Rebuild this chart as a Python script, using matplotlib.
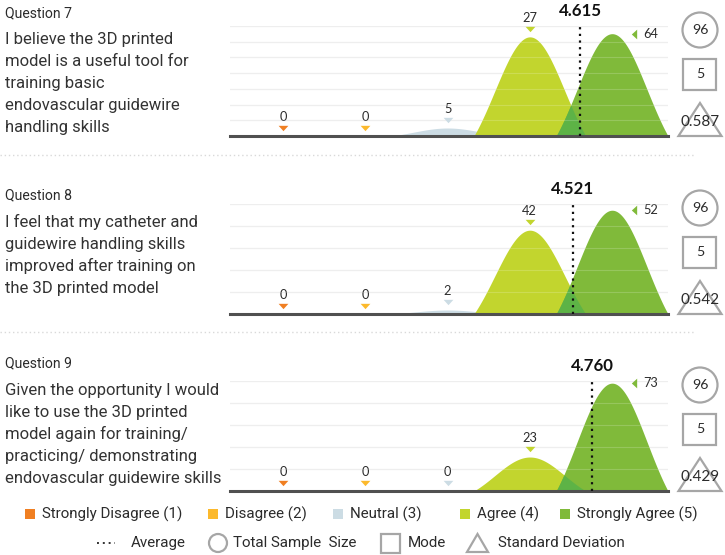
import numpy as np
import matplotlib
matplotlib.use("Agg")
import matplotlib.pyplot as plt
from matplotlib.patches import Circle, Rectangle, Polygon
from matplotlib.transforms import offset_copy

# ---------------- data ----------------
categories = ["Strongly Disagree (1)", "Disagree (2)", "Neutral (3)", "Agree (4)", "Strongly Agree (5)"]
cat_colors = ["#F07F22", "#FCB92C", "#CCDCE4", "#C2D52E", "#80BA3A"]
overlap_color = "#5DB346"

questions = ["Question 7", "Question 8", "Question 9"]
statements = [
    ["I believe the 3D printed", "model is a useful tool for", "training basic",
     "endovascular guidewire", "handling skills"],
    ["I feel that my catheter and", "guidewire handling skills",
     "improved after training on", "the 3D printed model"],
    ["Given the opportunity I would", "like to use the 3D printed",
     "model again for training/", "practicing/ demonstrating",
     "endovascular guidewire skills"],
]
counts_q7 = [0, 0, 5, 27, 64]
counts_q8 = [0, 0, 2, 42, 52]
counts_q9 = [0, 0, 0, 23, 73]
# curve peak heights as drawn in the picture
drawn_q7 = [0, 0, 5, 62, 64]
drawn_q8 = [0, 0, 2, 42, 52]
drawn_q9 = [0, 0, 0, 23, 73]
averages = [4.615, 4.521, 4.760]
sample_sizes = [96, 96, 96]
modes = [5, 5, 5]
std_devs = [0.587, 0.542, 0.429]

counts = [counts_q7, counts_q8, counts_q9]
drawn = [drawn_q7, drawn_q8, drawn_q9]

# ---------------- layout ----------------
W, H = 725, 555
fig = plt.figure(figsize=(W / 100, H / 100), dpi=100)
renderer = fig.canvas.get_renderer()
FONT = "Roboto"
NUMFONT = "Lato"
TXT = "#2b2b2b"

ov = fig.add_axes([0, 0, 1, 1])
ov.set_xlim(0, W)
ov.set_ylim(H, 0)
ov.axis("off")
ov.set_zorder(0)


def fit(t, target):
    w = t.get_window_extent(renderer).width
    t.set_fontsize(t.get_fontsize() * target / w)
    return t.get_fontsize()


# measure font sizes
tmp = ov.text(0, 0, "I believe the 3D printed", family=FONT, fontsize=12)
body_fs = fit(tmp, 168); tmp.remove()
tmp = ov.text(0, 0, "Question 7", family=FONT, fontsize=10)
q_fs = fit(tmp, 67); tmp.remove()
tmp = ov.text(0, 0, "Strongly Disagree (1)", family=FONT, fontsize=10)
leg_fs = fit(tmp, 141); tmp.remove()
tmp = ov.text(0, 0, "4.615", family=NUMFONT, fontsize=11, weight="bold")
avg_fs = fit(tmp, 43); tmp.remove()
tmp = ov.text(0, 0, "64", family=NUMFONT, fontsize=9)
cnt_fs = fit(tmp, 15); tmp.remove()
tmp = ov.text(0, 0, "0.587", family=NUMFONT, fontsize=10)
sd_fs = fit(tmp, 39); tmp.remove()

baselines = [136, 314, 491]
title_base = [17, 199, 367]
body_first = [44, 227, 395]
line_gap = 22
n_grid = [7, 5, 5]
headroom = [1.075, 1.06, 1.02]
ax_left, ax_w, ax_h = 230, 438, 110
x_lo, x_hi = 0.355, 5.68
half_w = 0.68

tri_down = [(-1, 0.55), (1, 0.55), (0, -0.55)]
tri_left = [(0.55, -1), (0.55, 1), (-0.55, 0)]


def shape(x, c, h):
    s = half_w / 1.6
    g = np.exp(-((x - c) ** 2) / (2 * s * s))
    e = np.exp(-(half_w ** 2) / (2 * s * s))
    y = h * (g - e) / (1 - e)
    y[np.abs(x - c) > half_w] = 0
    return np.clip(y, 0, None)


for p in range(3):
    B = baselines[p]
    # left text
    ov.text(5, title_base[p], questions[p], family=FONT, fontsize=q_fs,
            color=TXT, va="baseline", ha="left")
    for i, line in enumerate(statements[p]):
        ov.text(5, body_first[p] + i * line_gap, line, family=FONT,
                fontsize=body_fs, color="#333333", va="baseline", ha="left")

    ax = fig.add_axes([ax_left / W, (H - B) / H, ax_w / W, ax_h / H])
    ax.set_facecolor("none")
    ax.set_zorder(1)
    ymax = max(drawn[p]) * headroom[p]
    ax.set_xlim(x_lo, x_hi)
    ax.set_ylim(0, ymax)
    for s in ax.spines.values():
        s.set_visible(False)
    ax.set_xticks([])
    ax.set_yticks([])
    gy = [ymax * k / n_grid[p] for k in range(1, n_grid[p] + 1)]
    for g in gy:
        ax.axhline(g, color="#ebebeb", lw=0.9, zorder=0)

    xs = np.linspace(x_lo, x_hi, 1200)
    curves = []
    for k in range(5):
        c = k + 1
        y = shape(xs, c, drawn[p][k])
        curves.append(y)
        if drawn[p][k] > 0:
            ax.fill_between(xs, 0, y, where=y > 0, color=cat_colors[k],
                            lw=0, zorder=2 + k * 0.1)
    ov_y = np.minimum(curves[3], curves[4])
    ax.fill_between(xs, 0, ov_y, where=ov_y > 0, color=overlap_color, lw=0, zorder=3)
    for g in gy:
        ax.axhline(g, color="white", lw=0.8, alpha=0.18, zorder=3.5)
    ax.axhline(0, color="#505050", lw=2.2, zorder=4, clip_on=False)

    # count labels
    for k in range(5):
        c = k + 1
        h = drawn[p][k]
        if k < 4:
            tr = offset_copy(ax.transData, fig=fig, x=0, y=8, units="dots")
            ax.plot([c], [h], marker=tri_down, ms=7, color=cat_colors[k],
                    mec="none", transform=tr, clip_on=False, zorder=5)
            ax.annotate(str(counts[p][k]), xy=(c, h), xytext=(0, 19),
                        textcoords="offset pixels", ha="center", va="center",
                        family=NUMFONT, fontsize=cnt_fs, color=TXT,
                        annotation_clip=False)
        else:
            tr = offset_copy(ax.transData, fig=fig, x=22, y=0, units="dots")
            ax.plot([c], [h], marker=tri_left, ms=7, color=cat_colors[k],
                    mec="none", transform=tr, clip_on=False, zorder=5)
            ax.annotate(str(counts[p][k]), xy=(c, h), xytext=(31, 0),
                        textcoords="offset pixels", ha="left", va="center",
                        family=NUMFONT, fontsize=cnt_fs, color=TXT,
                        annotation_clip=False)

    # average
    a = averages[p]
    ax.plot([a, a], [0, ymax], ls=(0, (1, 2)), color="#111111", lw=1.6,
            zorder=6, clip_on=False)
    ax.annotate(f"{a:.3f}", xy=(a, ymax), xytext=(0, 15),
                textcoords="offset pixels", ha="center", va="center",
                family=NUMFONT, fontsize=avg_fs, weight="bold", color="#111111",
                annotation_clip=False)

    # right-side stats
    cx = 700
    ov.add_patch(Circle((cx, B - 106), 17.5, fill=False, ec="#a6a6a6", lw=1.6))
    ov.text(cx, B - 106, str(sample_sizes[p]), family=NUMFONT, fontsize=cnt_fs * 1.1,
            ha="center", va="center", color=TXT)
    ov.add_patch(Rectangle((cx - 16.5, B - 62 - 15.5), 33, 31, fill=False,
                           ec="#a6a6a6", lw=1.6))
    ov.text(cx, B - 62, str(modes[p]), family=NUMFONT, fontsize=cnt_fs * 1.1,
            ha="center", va="center", color=TXT)
    ov.add_patch(Polygon([(cx - 21.5, B), (cx + 21.5, B), (cx, B - 33)],
                         closed=True, fill=False, ec="#a6a6a6", lw=1.6))
    ov.text(cx, B - 14, f"{std_devs[p]:.3f}", family=NUMFONT, fontsize=sd_fs,
            ha="center", va="center", color=TXT)

# separators
for y in [155, 332]:
    ov.plot([0, 695], [y, y], ls=(0, (1, 2)), color="#d9d9d9", lw=1.0)

# legend row 1
leg_x = [25, 208, 333, 460, 560]
for k in range(5):
    ov.add_patch(Rectangle((leg_x[k], 509), 10, 10, color=cat_colors[k], lw=0))
    ov.text(leg_x[k] + 17, 514, categories[k], family=FONT, fontsize=leg_fs,
            color=TXT, ha="left", va="center")

# legend row 2
ly = 543
ov.plot([97, 115], [ly, ly], ls=(0, (1, 2)), color="#333333", lw=1.4)
ov.text(131, ly, "Average", family=FONT, fontsize=leg_fs, color=TXT,
        ha="left", va="center")
ov.add_patch(Circle((218, ly), 9, fill=False, ec="#a6a6a6", lw=1.6))
ov.text(233, ly, "Total Sample  Size", family=FONT, fontsize=leg_fs, color=TXT,
        ha="left", va="center")
ov.add_patch(Rectangle((381, ly - 9.5), 19, 19, fill=False, ec="#a6a6a6", lw=1.6))
ov.text(408, ly, "Mode", family=FONT, fontsize=leg_fs, color=TXT,
        ha="left", va="center")
ov.add_patch(Polygon([(467, ly + 9), (488, ly + 9), (477.5, ly - 9)], closed=True,
                     fill=False, ec="#a6a6a6", lw=1.6))
ov.text(498, ly, "Standard Deviation", family=FONT, fontsize=leg_fs, color=TXT,
        ha="left", va="center")

fig.savefig("out.png", dpi=100)
